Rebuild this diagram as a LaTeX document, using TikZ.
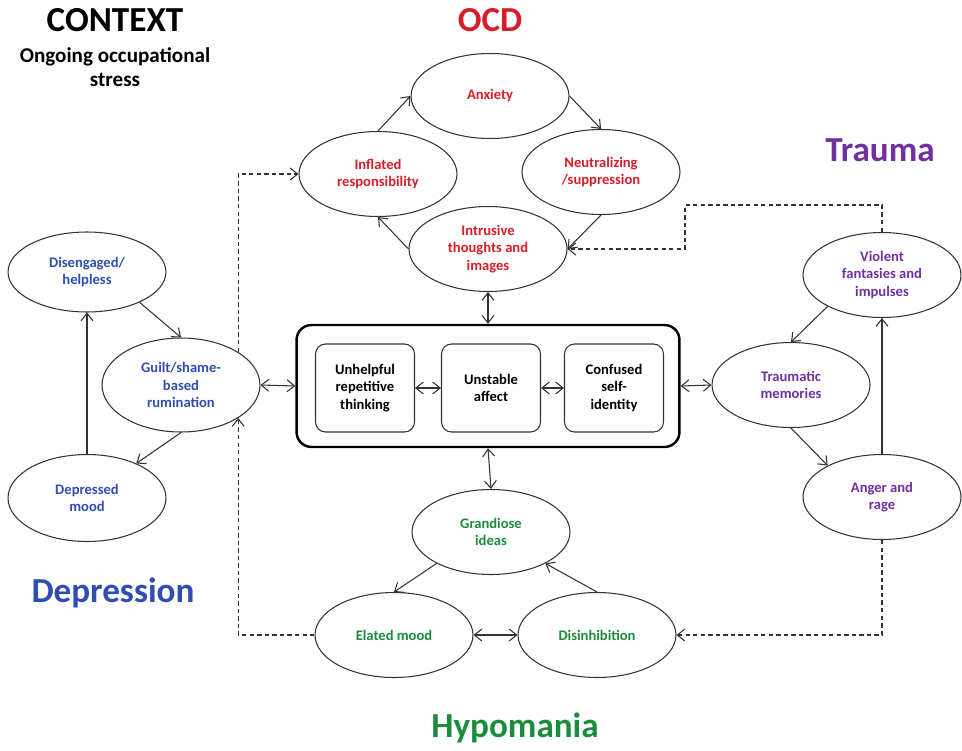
\documentclass[tikz,border=0pt]{standalone}
\usepackage{fontspec}
\setmainfont{Carlito}
\usepackage{tikz}
\usetikzlibrary{shapes.geometric, arrows.meta, positioning}
\definecolor{ocdred}{RGB}{214,30,40}
\definecolor{traumapurple}{RGB}{112,48,160}
\definecolor{deprblue}{RGB}{48,78,178}
\definecolor{hypogreen}{RGB}{26,140,60}
\newcommand{\boxfont}{\fontsize{8.3}{10}\selectfont\bfseries}
\tikzstyle{symptom} = [ellipse, draw=black!80, semithick, minimum width=3.16cm, minimum height=1.7cm, inner sep=0pt, align=center, font=\boxfont]
\tikzstyle{corebox} = [rectangle, rounded corners=0.3cm, draw=black, line width=1.4pt, minimum width=7.66cm, minimum height=2.44cm]
\tikzstyle{process} = [rectangle, rounded corners=0.2cm, draw=black!80, semithick, minimum width=1.98cm, minimum height=1.76cm, inner sep=1pt, align=center, font=\boxfont]
\tikzstyle{heading} = [font=\fontsize{20}{24}\selectfont\bfseries]
\tikzstyle{arrow} = [semithick, black!80, -{Straight Barb[length=1.5mm, width=2.4mm]}]
\tikzstyle{biarrow} = [semithick, black!80, {Straight Barb[length=1.5mm, width=2.4mm]}-{Straight Barb[length=1.5mm, width=2.4mm]}]
\tikzstyle{dasharrow} = [arrow, dash pattern=on 2.5pt off 1.8pt]

\begin{document}
\begin{tikzpicture}[x=0.02cm, y=-0.02cm]
\useasboundingbox (0,0) rectangle (962,750);

% Titles
\node[font=\fontsize{20}{23}\selectfont\bfseries] (context) at (115,20) {CONTEXT};
\node[font=\fontsize{12}{13.5}\selectfont\bfseries, align=center] (stress) at (115,67) {Ongoing occupational\\stress};
\node[heading, text=ocdred] (ocd_title) at (490,20) {OCD};
\node[heading, text=traumapurple] (trauma_title) at (880,150) {Trauma};
\node[heading, text=deprblue] (depr_title) at (113,593) {Depression};
\node[heading, text=hypogreen] (hypo_title) at (515,728) {Hypomania};

% OCD cycle
\node[symptom, text=ocdred] (anxiety) at (490,96) {Anxiety};
\node[symptom, text=ocdred] (inflated) at (378,174) {Inflated\\responsibility};
\node[symptom, text=ocdred] (neutral) at (601,172) {Neutralizing\\/suppression};
\node[symptom, text=ocdred] (intrusive) at (488,249) {Intrusive\\thoughts and\\images};

\draw[arrow] (inflated.north) -- (anxiety.west);
\draw[arrow] (anxiety.east) -- (neutral.north);
\draw[arrow] (neutral.south) -- (intrusive.east);
\draw[arrow] (intrusive.west) -- (inflated.south);

% Depression cycle
\node[symptom, text=deprblue, minimum height=1.6cm] (disengaged) at (87,272) {Disengaged/\\helpless};
\node[symptom, text=deprblue, minimum height=1.88cm] (guilt) at (181,385) {Guilt/shame-\\based\\rumination};
\node[symptom, text=deprblue, minimum height=1.74cm] (depressed) at (87,498) {Depressed\\mood};

\draw[arrow] (disengaged.-30) -- (guilt.north);
\draw[arrow] (guilt.south) -- (depressed.35);
\draw[arrow] (depressed.north) -- (disengaged.south);

% Core processes
\node[corebox] (core) at (488,386) {};
\node[process] (thinking) at (365,388) {Unhelpful\\repetitive\\thinking};
\node[process] (affect) at (491,388) {Unstable\\affect};
\node[process] (identity) at (614,388) {Confused\\self-\\identity};

\draw[biarrow] (thinking) -- (affect);
\draw[biarrow] (affect) -- (identity);

% Trauma cycle
\node[symptom, text=traumapurple] (traumatic) at (791,385) {Traumatic\\memories};
\node[symptom, text=traumapurple] (violent) at (882,275) {Violent\\fantasies and\\impulses};
\node[symptom, text=traumapurple] (anger) at (882,497) {Anger and\\rage};

\draw[arrow] (violent.210) -- (traumatic.north);
\draw[arrow] (traumatic.south) -- (anger.150);
\draw[arrow] (anger.north) -- (violent.south);

% Hypomania cycle
\node[symptom, text=hypogreen] (grandiose) at (491,532) {Grandiose\\ideas};
\node[symptom, text=hypogreen] (elated) at (394,635) {Elated mood};
\node[symptom, text=hypogreen] (disinhib) at (597,635) {Disinhibition};

\draw[arrow] (grandiose.210) -- (elated.north);
\draw[arrow] (disinhib.north) -- (grandiose.-30);
\draw[biarrow] (elated) -- (disinhib);

% Links to the core
\draw[biarrow] (guilt.east) -- (core.west);
\draw[biarrow] (core.east) -- (traumatic.west);
\draw[biarrow] (intrusive.south) -- (core.north);
\draw[biarrow] (core.south) -- (grandiose.north);

% Cross links (dashed)
\coordinate (trauma_bend) at (685,205);
\draw[dasharrow] (elated.west) -| (guilt.-30);
\draw[dasharrow] (guilt.30) |- (inflated.west);
\draw[dasharrow] (violent.north) |- (trauma_bend) |- (intrusive.east);
\draw[dasharrow] (anger.south) |- (disinhib.east);

\end{tikzpicture}
\end{document}
